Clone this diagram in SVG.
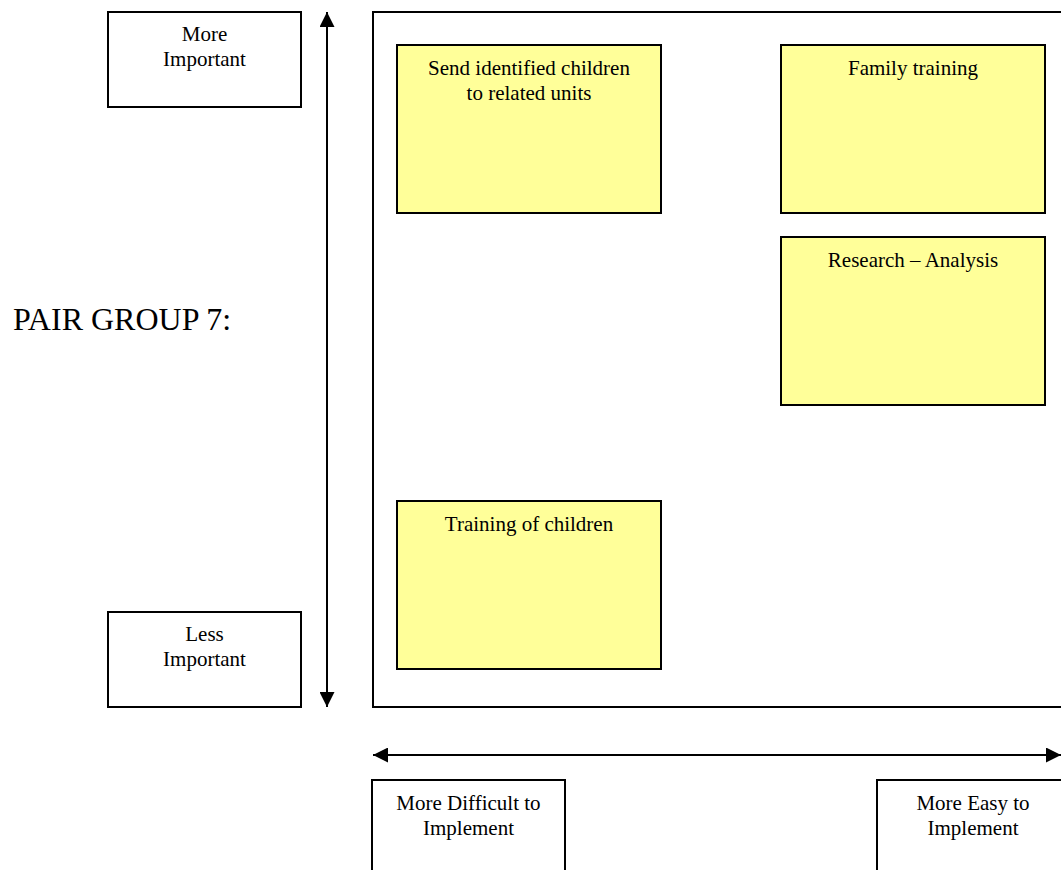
<svg xmlns="http://www.w3.org/2000/svg" width="1061" height="870" viewBox="0 0 1061 870">
  <style>
    text { font-family: "Liberation Serif", "Times New Roman", serif; fill: #000; text-anchor: middle; }
    .lbl { font-size: 21px; }
    .title { font-size: 32px; text-anchor: start; }
    .box { fill: #fff; stroke: #000; stroke-width: 2; }
    .note { fill: #ffff99; stroke: #000; stroke-width: 2; }
    .frame { fill: none; stroke: #000; stroke-width: 2; }
    .axis { stroke: #000; stroke-width: 2; fill: none; }
  </style>
  <defs>
    <marker id="arrow" viewBox="0 0 15 15" refX="15" refY="7.5" markerWidth="15" markerHeight="15" markerUnits="userSpaceOnUse" orient="auto-start-reverse">
      <path d="M0,0 L15,7.5 L0,15 z" fill="#000"/>
    </marker>
  </defs>

  <rect width="1061" height="870" fill="#fff"/>

  <text class="title" x="13" y="330">PAIR GROUP 7:</text>

  <!-- priority frame -->
  <rect id="frame" class="frame" x="373" y="12" width="700" height="695"/>

  <!-- axes -->
  <g id="connectors">
    <line class="axis" x1="327" y1="12" x2="327" y2="707" marker-start="url(#arrow)" marker-end="url(#arrow)"/>
    <line class="axis" x1="373" y1="755" x2="1061" y2="755" marker-start="url(#arrow)" marker-end="url(#arrow)"/>
  </g>

  <!-- axis labels -->
  <g id="more-important">
    <rect class="box" x="108" y="12" width="193" height="95"/>
    <text class="lbl" x="204.5" y="41">More</text>
    <text class="lbl" x="204.5" y="66">Important</text>
  </g>
  <g id="less-important">
    <rect class="box" x="108" y="612" width="193" height="95"/>
    <text class="lbl" x="204.5" y="641">Less</text>
    <text class="lbl" x="204.5" y="666">Important</text>
  </g>
  <g id="more-difficult">
    <rect class="box" x="372" y="780" width="193" height="100"/>
    <text class="lbl" x="468.5" y="810">More Difficult to</text>
    <text class="lbl" x="468.5" y="835">Implement</text>
  </g>
  <g id="more-easy">
    <rect class="box" x="877" y="780" width="193" height="100"/>
    <text class="lbl" x="973" y="810">More Easy to</text>
    <text class="lbl" x="973" y="835">Implement</text>
  </g>

  <!-- activity notes -->
  <g id="send-children">
    <rect class="note" x="397" y="45" width="264" height="168"/>
    <text class="lbl" x="529" y="75">Send identified children</text>
    <text class="lbl" x="529" y="100">to related units</text>
  </g>
  <g id="family-training">
    <rect class="note" x="781" y="45" width="264" height="168"/>
    <text class="lbl" x="913" y="75">Family training</text>
  </g>
  <g id="research-analysis">
    <rect class="note" x="781" y="237" width="264" height="168"/>
    <text class="lbl" x="913" y="267">Research – Analysis</text>
  </g>
  <g id="training-children">
    <rect class="note" x="397" y="501" width="264" height="168"/>
    <text class="lbl" x="529" y="531">Training of children</text>
  </g>
</svg>
